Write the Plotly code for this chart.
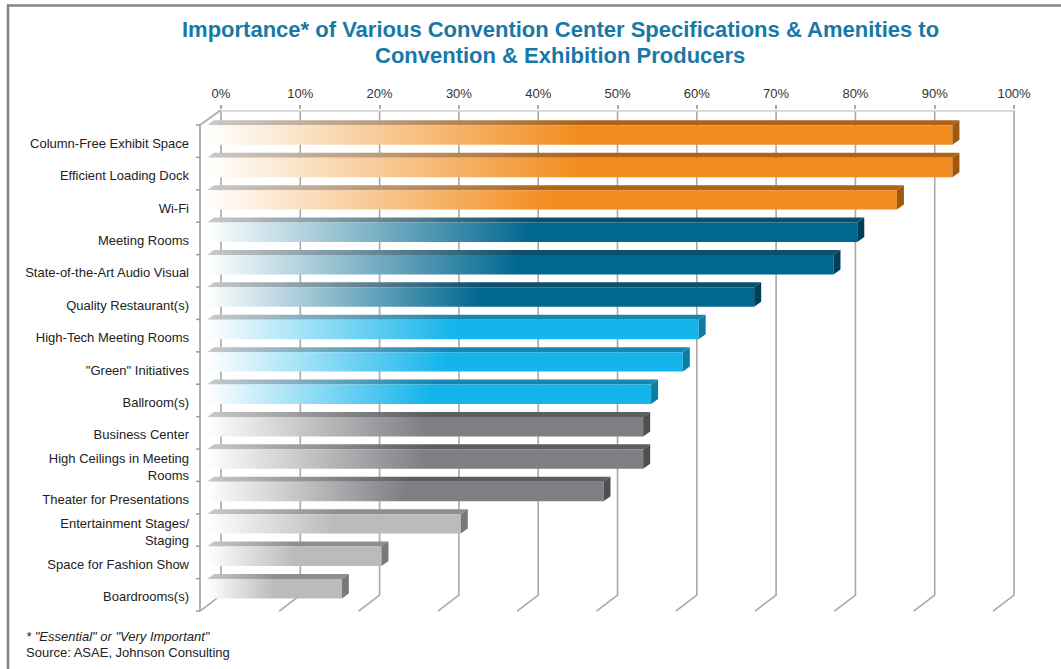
import plotly.graph_objects as go

# ---------------- data ----------------
CATEGORIES = [
    "Column-Free Exhibit Space",
    "Efficient Loading Dock",
    "Wi-Fi",
    "Meeting Rooms",
    "State-of-the-Art Audio Visual",
    "Quality Restaurant(s)",
    "High-Tech Meeting Rooms",
    "\"Green\" Initiatives",
    "Ballroom(s)",
    "Business Center",
    "High Ceilings in Meeting<br>Rooms",
    "Theater for Presentations",
    "Entertainment Stages/<br>Staging",
    "Space for Fashion Show",
    "Boardrooms(s)",
]
VALUES = [94, 94, 87, 82, 79, 69, 62, 60, 56, 55, 55, 50, 32, 22, 17]
GROUPS = ["orange"] * 3 + ["darkblue"] * 3 + ["lightblue"] * 3 + ["darkgray"] * 3 + ["lightgray"] * 3
TICK_VALUES = [0, 10, 20, 30, 40, 50, 60, 70, 80, 90, 100]
TICK_TEXT = ["0%", "10%", "20%", "30%", "40%", "50%", "60%", "70%", "80%", "90%", "100%"]

TITLE_LINE1 = "Importance* of Various Convention Center Specifications & Amenities to"
TITLE_LINE2 = "Convention & Exhibition Producers"
NOTE1 = "* \"Essential\" or \"Very Important\""
NOTE2 = "Source: ASAE, Johnson Consulting"

# ---------------- styles ----------------
PALETTE = {
    #            front      top end    side
    "orange":    ("#F28C1E", "#AE6319", "#A0570F"),
    "darkblue":  ("#00678F", "#0C4E6C", "#003F5A"),
    "lightblue": ("#15B5EB", "#1786B1", "#0F7CA3"),
    "darkgray":  ("#7F7E83", "#5D5D61", "#4E4E52"),
    "lightgray": ("#BBBBBD", "#8E8E90", "#78787A"),
}
FONT = "Liberation Sans, Arial, sans-serif"

# pixel geometry -> data units
L, R, T, B = 193, 40, 110, 56
W, H = 1061, 669
X0, X1 = -3.53, 100.88
PX = (W - L - R) / (X1 - X0)          # px per percent
Y_TOP, Y_BOT = -0.963, 14.56
PY = (H - T - B) / (Y_BOT - Y_TOP)    # px per category unit

BOX_DX = -21 / PX      # depth offset of front plane
BOX_DY = 16 / PY
BAR_FRONT_DX = -14 / PX
BAR_BACK_DX = -7 / PX
BAR_DY = -5 / PY
FACE_TOP, FACE_BOT = -0.49, 0.11

fig = go.Figure()

# ---------------- walls & gridlines ----------------
BACK_BOTTOM = 14.5 - BOX_DY
FRONT_BOTTOM = 14.5
gx, gy = [], []
for t in TICK_VALUES:
    gx += [t, t, t + BOX_DX, None]
    gy += [Y_TOP, BACK_BOTTOM, FRONT_BOTTOM, None]
fig.add_trace(go.Scatter(x=gx, y=gy, mode="lines", line=dict(color="#A8A8A8", width=1.6),
                         hoverinfo="skip", showlegend=False))

# top edge of back wall
fig.add_trace(go.Scatter(x=[0, 100], y=[Y_TOP, Y_TOP], mode="lines",
                         line=dict(color="#D4D4D4", width=3.5), hoverinfo="skip", showlegend=False))

# left wall: front edge, top slant, tick marks
wx = [0, BOX_DX, BOX_DX]
wy = [Y_TOP, -0.5, 14.5]
fig.add_trace(go.Scatter(x=wx, y=wy, mode="lines", line=dict(color="#B0B0B0", width=2),
                         hoverinfo="skip", showlegend=False))
tx, ty = [], []
for i in range(len(CATEGORIES) + 1):
    yb = i - 0.5
    tx += [BOX_DX - 4 / PX, BOX_DX, None]
    ty += [yb, yb, None]
fig.add_trace(go.Scatter(x=tx, y=ty, mode="lines", line=dict(color="#9A9A9A", width=1.5),
                         hoverinfo="skip", showlegend=False))

# ---------------- bars ----------------
for i, (v, g) in enumerate(zip(VALUES, GROUPS)):
    front, top_end, side = PALETTE[g]
    xf0, xf1 = BAR_FRONT_DX, v + BAR_FRONT_DX
    xb0, xb1 = BAR_BACK_DX, v + BAR_BACK_DX
    yt, yb = i + FACE_TOP, i + FACE_BOT
    # top face
    fig.add_trace(go.Scatter(
        x=[xf0, xf1, xb1, xb0, xf0], y=[yt, yt, yt + BAR_DY, yt + BAR_DY, yt],
        mode="lines", line=dict(width=0), fill="toself",
        fillgradient=dict(type="horizontal", start=xf0, stop=xb1,
                          colorscale=[[0, "#C9C9C9"], [0.5, top_end], [1, top_end]]),
        hoverinfo="skip", showlegend=False))
    # front face
    fig.add_trace(go.Scatter(
        x=[xf0, xf1, xf1, xf0, xf0], y=[yt, yt, yb, yb, yt],
        mode="lines", line=dict(width=0), fill="toself",
        fillgradient=dict(type="horizontal", start=xf0, stop=xf1,
                          colorscale=[[0, "#FFFFFF"], [0.5, front], [1, front]]),
        hoverinfo="skip", showlegend=False))
    # side face
    fig.add_trace(go.Scatter(
        x=[xf1, xb1, xb1, xf1, xf1], y=[yt, yt + BAR_DY, yb + BAR_DY, yb, yt],
        mode="lines", line=dict(width=0), fill="toself", fillcolor=side,
        hoverinfo="skip", showlegend=False))

# ---------------- layout ----------------
def px_to_paper_x(p):
    return (p - L) / (W - L - R)

def px_to_paper_y(p):
    return (H - B - p) / (H - T - B)

title_font = dict(family=FONT, size=22, color="#1878A6")
note_font = dict(family=FONT, size=13, color="#222222")

fig.update_layout(
    width=W, height=H,
    margin=dict(l=L, r=R, t=T, b=B),
    paper_bgcolor="white", plot_bgcolor="white",
    xaxis=dict(range=[X0, X1], side="top", tickvals=TICK_VALUES, ticktext=TICK_TEXT,
               showgrid=False, zeroline=False, showline=False,
               ticks="outside", ticklen=4, tickcolor="#A8A8A8", tickwidth=1.5,
               ticklabelstandoff=2,
               tickfont=dict(family=FONT, size=13, color="#333333"), fixedrange=True),
    yaxis=dict(range=[Y_BOT, Y_TOP], tickvals=list(range(len(CATEGORIES))), ticktext=CATEGORIES,
               showgrid=False, zeroline=False, showline=False, ticks="",
               ticklabelstandoff=3, ticklabelshift=-2,
               tickfont=dict(family=FONT, size=13, color="#222222"), fixedrange=True),
    font=dict(family=FONT),
    annotations=[
        dict(text="<b>" + TITLE_LINE1 + "</b>", xref="paper", yref="paper",
             x=px_to_paper_x(560), y=px_to_paper_y(29), xanchor="center", yanchor="middle",
             showarrow=False, font=title_font),
        dict(text="<b>" + TITLE_LINE2 + "</b>", xref="paper", yref="paper",
             x=px_to_paper_x(560), y=px_to_paper_y(55), xanchor="center", yanchor="middle",
             showarrow=False, font=title_font),
        dict(text="<i>" + NOTE1 + "</i>", xref="paper", yref="paper",
             x=px_to_paper_x(24), y=px_to_paper_y(636), xanchor="left", yanchor="middle",
             showarrow=False, font=note_font),
        dict(text=NOTE2, xref="paper", yref="paper",
             x=px_to_paper_x(24), y=px_to_paper_y(652), xanchor="left", yanchor="middle",
             showarrow=False, font=note_font),
    ],
    shapes=[
        dict(type="line", xref="paper", yref="paper", x0=px_to_paper_x(7), x1=px_to_paper_x(1061),
             y0=px_to_paper_y(5.5), y1=px_to_paper_y(5.5), line=dict(color="#858585", width=2.5)),
        dict(type="line", xref="paper", yref="paper", x0=px_to_paper_x(8), x1=px_to_paper_x(8),
             y0=px_to_paper_y(4.5), y1=px_to_paper_y(669), line=dict(color="#858585", width=2.5)),
    ],
)

fig.write_html("out.html")
